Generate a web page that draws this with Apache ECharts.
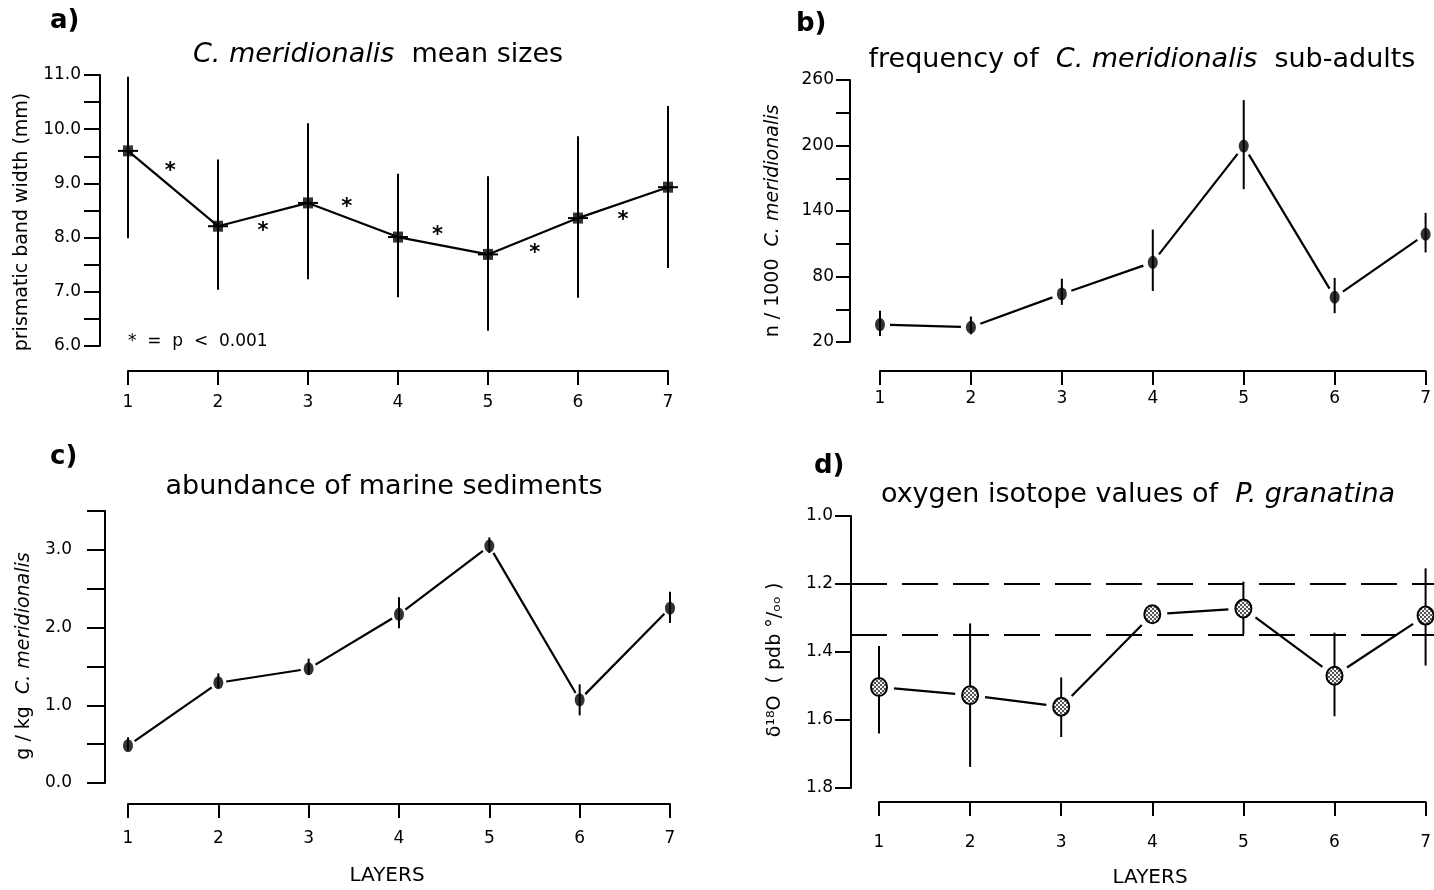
<!DOCTYPE html>
<html>
<head>
<meta charset="utf-8">
<script src="https://cdn.jsdelivr.net/npm/echarts@6/dist/echarts.min.js"></script>
<style>
html, body { margin: 0; padding: 0; background: #fff; }
#chart { width: 1434px; height: 890px; }
</style>
</head>
<body>
<div id="chart"></div>
<script>
// layers on the x axis (all four panels)
const layers = [1, 2, 3, 4, 5, 6, 7];

// a) C. meridionalis mean sizes (prismatic band width, mm)
const sizeMean = [9.60, 8.21, 8.64, 8.01, 7.69, 8.36, 8.93];
const sizeLow = [7.99, 7.04, 7.23, 6.90, 6.28, 6.89, 7.44];
const sizeHigh = [10.97, 9.44, 10.11, 9.18, 9.13, 9.87, 10.43];
const starX = [1.47, 2.5, 3.43, 4.44, 5.52, 6.5];
const starY = [9.31, 8.21, 8.64, 8.13, 7.79, 8.40];
const sizeTicks = [6, 6.5, 7, 7.5, 8, 8.5, 9, 9.5, 10, 10.5, 11];
const sizeLabels = [6, 7, 8, 9, 10, 11];

// b) frequency of sub-adults (n / 1000)
const subMean = [36, 33.5, 64, 93, 199.5, 61, 118.7];
const subLow = [25.4, 27, 54, 66.7, 160, 46.4, 102];
const subHigh = [48.6, 43.4, 78, 123, 241.6, 78.7, 138.3];
const subTicks = [20, 50, 80, 110, 140, 170, 200, 230, 260];
const subLabels = [20, 80, 140, 200, 260];

// c) abundance of marine sediments (g / kg)
const sedMean = [0.48, 1.29, 1.47, 2.17, 3.05, 1.07, 2.25];
const sedLow = [0.42, 1.22, 1.39, 1.99, 2.96, 0.87, 2.06];
const sedHigh = [0.59, 1.41, 1.60, 2.39, 3.16, 1.27, 2.46];
const sedTicks = [0, 0.5, 1, 1.5, 2, 2.5, 3, 3.5];
const sedLabels = [0, 1, 2, 3];

// d) oxygen isotope values of P. granatina
const isoMean = [1.503, 1.527, 1.561, 1.289, 1.272, 1.470, 1.293];
const isoTop = [1.382, 1.316, 1.475, null, 1.193, 1.343, 1.154];
const isoBottom = [1.640, 1.738, 1.650, null, 1.348, 1.589, 1.440];
const isoRefLines = [1.2, 1.35];
const isoTicks = [1.0, 1.2, 1.4, 1.6, 1.8];

const FONT = 'DejaVu Sans';
const chart = echarts.init(document.getElementById('chart'));

// stippled fill for the isotope markers (2px checker)
const dots = document.createElement('canvas');
dots.width = 4; dots.height = 4;
const dctx = dots.getContext('2d');
dctx.fillStyle = '#f4f4f4';
dctx.fillRect(0, 0, 4, 4);
dctx.fillStyle = '#555';
dctx.fillRect(0, 0, 2, 2);
dctx.fillRect(2, 2, 2, 2);

function xAxisFor(gridIndex, offset, margin) {
    return {
        type: 'value', gridIndex, min: 1, max: 7, position: 'bottom', offset,
        axisLine: { show: true, onZero: false, lineStyle: { color: '#000', width: 2 } },
        axisTick: { show: true, customValues: layers, length: 14, lineStyle: { color: '#000', width: 2 } },
        axisLabel: { customValues: layers, color: '#000', fontSize: 17, fontFamily: FONT, margin },
        splitLine: { show: false }
    };
}

function yAxisFor(gridIndex, o) {
    return {
        type: 'value', gridIndex, min: o.min, max: o.max, inverse: !!o.inverse, position: 'left', offset: o.offset,
        axisLine: { show: true, onZero: false, lineStyle: { color: '#000', width: 2 } },
        axisTick: { show: true, customValues: o.ticks, length: o.tickLen, lineStyle: { color: '#000', width: 2 } },
        axisLabel: {
            customValues: o.labels, color: '#000', fontSize: 17, fontFamily: FONT, margin: o.margin,
            formatter: v => v.toFixed(o.dec)
        },
        splitLine: { show: false }
    };
}

// vertical error bars, optional horizontal whisker through the mean
function errorSeries(idx, means, lows, highs, whisker) {
    return {
        type: 'custom', xAxisIndex: idx, yAxisIndex: idx, z: 3, silent: true,
        data: layers.map((x, i) => [x, lows[i], highs[i], means[i]]).filter(d => d[1] != null),
        renderItem(params, api) {
            const x = api.value(0);
            const p0 = api.coord([x, api.value(1)]);
            const p1 = api.coord([x, api.value(2)]);
            const children = [{
                type: 'line',
                shape: { x1: p0[0], y1: p0[1], x2: p1[0], y2: p1[1] },
                style: { stroke: '#000', lineWidth: 2 }
            }];
            if (whisker) {
                const m = api.coord([x, api.value(3)]);
                children.push({
                    type: 'line',
                    shape: { x1: m[0] - whisker, y1: m[1], x2: m[0] + whisker, y2: m[1] },
                    style: { stroke: '#000', lineWidth: 2 }
                });
            }
            return { type: 'group', children };
        }
    };
}

// line between consecutive means, stopped short of the markers
function connectorSeries(idx, means, gap) {
    return {
        type: 'custom', xAxisIndex: idx, yAxisIndex: idx, z: 2, silent: true,
        data: layers.slice(0, -1).map((x, i) => [x, means[i], layers[i + 1], means[i + 1]]),
        renderItem(params, api) {
            const a = api.coord([api.value(0), api.value(1)]);
            const b = api.coord([api.value(2), api.value(3)]);
            const dx = b[0] - a[0], dy = b[1] - a[1];
            const len = Math.hypot(dx, dy);
            const ux = dx / len, uy = dy / len;
            return {
                type: 'line',
                shape: { x1: a[0] + ux * gap, y1: a[1] + uy * gap, x2: b[0] - ux * gap, y2: b[1] - uy * gap },
                style: { stroke: '#000', lineWidth: 2.2 }
            };
        }
    };
}

function markerSeries(idx, means, symbol, size) {
    return {
        type: 'scatter', xAxisIndex: idx, yAxisIndex: idx, z: 4, silent: true,
        symbol, symbolSize: size, itemStyle: { color: '#000' },
        data: layers.map((x, i) => [x, means[i]])
    };
}

function text(x, y, str, size, extra) {
    return Object.assign({
        type: 'text', x, y,
        style: Object.assign({
            text: str, fill: '#000', fontSize: size, fontFamily: FONT,
            align: 'center', verticalAlign: 'middle', textAlign: 'center', textVerticalAlign: 'middle',
            rich: { i: { fontStyle: 'italic', fontSize: size, fontFamily: FONT, fill: '#000' } }
        }, extra && extra.style)
    }, extra && extra.el);
}

const leftStyle = { style: { align: 'left', textAlign: 'left' } };
const boldStyle = { style: { align: 'left', textAlign: 'left', fontWeight: 'bold' } };
const vertical = { el: { rotation: Math.PI / 2 } };

chart.setOption({
    animation: false,
    backgroundColor: '#fff',
    grid: [
        { left: 128, right: 766, top: 75, bottom: 544 },
        { left: 880, right: 4, top: 80, bottom: 548 },
        { left: 128, right: 764, top: 511, bottom: 107 },
        { left: 879, right: 7, top: 516, bottom: 102 },
        { left: 851, right: 0, top: 516, bottom: 102 }
    ],
    xAxis: [
        xAxisFor(0, 25, 23),
        xAxisFor(1, 29, 19),
        xAxisFor(2, 21, 26),
        xAxisFor(3, 14, 32),
        { type: 'value', gridIndex: 4, min: 0, max: 1, show: false }
    ],
    yAxis: [
        yAxisFor(0, { min: 6, max: 11, offset: 28, ticks: sizeTicks, labels: sizeLabels, tickLen: 16, margin: 19, dec: 1 }),
        yAxisFor(1, { min: 20, max: 260, offset: 30, ticks: subTicks, labels: subLabels, tickLen: 14, margin: 16, dec: 0 }),
        yAxisFor(2, { min: 0, max: 3.5, offset: 23, ticks: sedTicks, labels: sedLabels, tickLen: 18, margin: 33, dec: 1 }),
        yAxisFor(3, { min: 1, max: 1.8, inverse: true, offset: 28, ticks: isoTicks, labels: isoTicks, tickLen: 16, margin: 18, dec: 1 }),
        { type: 'value', gridIndex: 4, min: 1, max: 1.8, inverse: true, show: false }
    ],
    series: [
        // a
        connectorSeries(0, sizeMean, 0),
        errorSeries(0, sizeMean, sizeLow, sizeHigh, 10),
        markerSeries(0, sizeMean, 'rect', [10, 11]),
        {
            type: 'custom', xAxisIndex: 0, yAxisIndex: 0, z: 4, silent: true,
            data: starX.map((x, i) => [x, starY[i]]),
            renderItem(params, api) {
                const c = api.coord([api.value(0), api.value(1)]);
                return {
                    type: 'text', x: c[0], y: c[1] + 5,
                    style: {
                        text: '*', fill: '#000', fontSize: 21, fontWeight: 'bold', fontFamily: FONT,
                        align: 'center', verticalAlign: 'middle', textAlign: 'center', textVerticalAlign: 'middle'
                    }
                };
            }
        },
        // b
        connectorSeries(1, subMean, 10),
        errorSeries(1, subMean, subLow, subHigh, 0),
        markerSeries(1, subMean, 'circle', [10, 13]),
        // c
        connectorSeries(2, sedMean, 8),
        errorSeries(2, sedMean, sedLow, sedHigh, 0),
        markerSeries(2, sedMean, 'circle', [10, 13]),
        // d
        ...isoRefLines.map(v => ({
            type: 'line', xAxisIndex: 4, yAxisIndex: 4, z: 1, silent: true, symbol: 'none',
            lineStyle: { color: '#000', width: 2, type: [36, 15] },
            data: [[0, v], [1, v]]
        })),
        connectorSeries(3, isoMean, 15),
        errorSeries(3, isoMean, isoTop, isoBottom, 0),
        {
            type: 'custom', xAxisIndex: 3, yAxisIndex: 3, z: 4, silent: true,
            data: layers.map((x, i) => [x, isoMean[i]]),
            renderItem(params, api) {
                const c = api.coord([api.value(0), api.value(1)]);
                return {
                    type: 'ellipse',
                    shape: { cx: c[0], cy: c[1], rx: 8, ry: 9 },
                    style: { fill: { image: dots, repeat: 'repeat' }, stroke: '#000', lineWidth: 2 }
                };
            }
        }
    ],
    graphic: { elements: [
        text(50, 21, 'a)', 26, boldStyle),
        text(796, 24, 'b)', 26, boldStyle),
        text(50, 457, 'c)', 26, boldStyle),
        text(814, 466, 'd)', 26, boldStyle),
        text(378, 55, '{i|C. meridionalis}  mean sizes', 27),
        text(1142, 60, 'frequency of  {i|C. meridionalis}  sub-adults', 27),
        text(384, 487, 'abundance of marine sediments', 27),
        text(1138, 495, 'oxygen isotope values of  {i|P. granatina}', 27),
        text(22, 222, 'prismatic band width (mm)', 19, vertical),
        text(773, 221, 'n / 1000  {i|C. meridionalis}', 19, vertical),
        text(24, 656, 'g / kg  {i|C. meridionalis}', 19, vertical),
        text(775, 660, 'δ¹⁸O  ( pdb °/ₒₒ )', 19, vertical),
        text(128, 342, '*  =  p  <  0.001', 17, leftStyle),
        text(387, 876, 'LAYERS', 20),
        text(1150, 878, 'LAYERS', 20)
    ] }
});
</script>
</body>
</html>
